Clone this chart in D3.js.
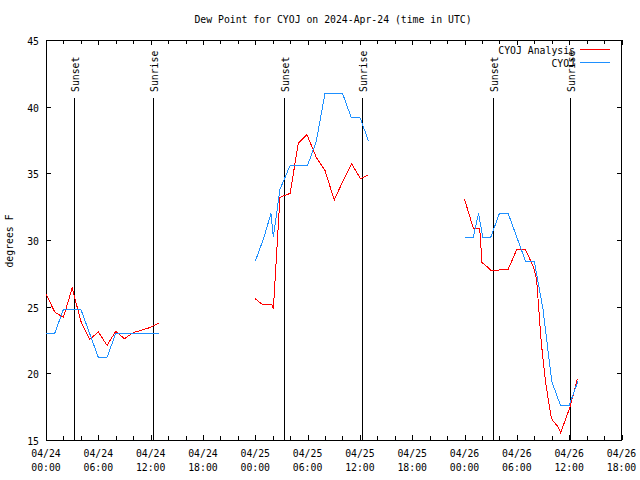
<!DOCTYPE html>
<html><head><meta charset="utf-8">
<script src="https://cdn.jsdelivr.net/npm/d3@7"></script>
<style>
body{margin:0;background:#fff}
text{font-family:"DejaVu Sans Mono",monospace;font-size:9.8px;fill:#000}
</style>
</head><body><svg id="c" width="640" height="480"></svg>
<script>
// hours since 2024-04-24 00:00 UTC; null breaks the line
const analysisHours = [0,1,2,3,4,5,6,7,8,9,10,11,12,13, null,
  24,24.74,25.88,26.07,26.83,28,28.93,29.93,31,32,33.06,34,35.06,36.07,36.96, null,
  48,49,49.74,50,50.4,51,52,53,54,55,55.9,56.27,56.8,57.28,57.88,58.06,58.72,59.02,60.06,60.95];
const analysisValues = [25.95,24.6,24.2,26.4,23.9,22.55,23.1,22.1,23.15,22.6,23.05,23.25,23.45,23.8, null,
  25.6,25.2,25.2,24.8,33.2,33.5,37.25,37.9,36.2,35.2,33.0,34.35,35.7,34.6,34.9, null,
  33.05,30.9,30.9,28.3,28.1,27.75,27.75,27.8,29.3,29.25,28.0,27.0,22.3,19.4,16.9,16.5,16.0,15.55,17.4,19.6];
const obsHours = [0,1,2,3,4,5,6,7,8,9,10,11,12,13, null,
  24,25,25.8,26.07,26.83,28,29,30,31,32,33,34,35,36,37, null,
  48,49,49.6,50.1,51,52,53,54,55,56,57,58,59,60,61];
const obsValues = [23,23,24.8,24.8,24.8,23,21.2,21.2,23,23,23,23,23,23, null,
  28.4,30.2,32,30.2,33.8,35.6,35.6,35.6,37.4,41,41,41,39.2,39.2,37.4, null,
  30.2,30.2,32,30.2,30.2,32,32,30.2,28.4,28.4,24.8,19.4,17.6,17.6,19.4];
const sunHours = [3.21,12.3,27.33,36.27,51.3,60.12];
const sunLabels = ["Sunset","Sunrise","Sunset","Sunrise","Sunset","Sunrise"];
const xTickHours = [0,6,12,18,24,30,36,42,48,54,60,66];
const xTickDates = ["04/24","04/24","04/24","04/24","04/25","04/25","04/25","04/25","04/26","04/26","04/26","04/26"];
const xTickTimes = ["00:00","06:00","12:00","18:00","00:00","06:00","12:00","18:00","00:00","06:00","12:00","18:00"];
const yTicks = [15,20,25,30,35,40,45];
const seriesNames = ["CYOJ Analysis","CYOJ"];
const seriesColors = ["#ff0000","#1e90ff"];

const base = Date.UTC(2024,3,24);
const toDate = h => new Date(base + h*3600e3);
const L=46, R=621.5, T=40, B=440;
const x = d3.scaleUtc().domain([toDate(0), toDate(66)]).range([L, R]);
const y = d3.scaleLinear().domain([15,45]).range([B, T]);
const svg = d3.select("#c");
svg.append("rect").attr("width",640).attr("height",480).attr("fill","#fff");

// title
svg.append("text").attr("x",333).attr("y",23).attr("text-anchor","middle")
  .text("Dew Point for CYOJ on 2024-Apr-24 (time in UTC)");
svg.append("text").attr("transform","translate(13,241) rotate(-90)").attr("text-anchor","middle").text("degrees F");

const g = svg.append("g").attr("shape-rendering","crispEdges");
// x ticks every 2h, inward top & bottom
const minor = d3.range(0,67,2);
minor.forEach(h=>{
  const len = h%6===0 ? 5 : 4;
  const xx = Math.round(x(toDate(h)))+0.5;
  g.append("line").attr("x1",xx).attr("x2",xx).attr("y1",B).attr("y2",B-len).attr("stroke","#000");
  g.append("line").attr("x1",xx).attr("x2",xx).attr("y1",T).attr("y2",T+len).attr("stroke","#000");
});
yTicks.forEach(v=>{
  const yy = Math.round(y(v))+0.5;
  g.append("line").attr("x1",L).attr("x2",L+5).attr("y1",yy).attr("y2",yy).attr("stroke","#000");
  g.append("line").attr("x1",R).attr("x2",R-5).attr("y1",yy).attr("y2",yy).attr("stroke","#000");
  svg.append("text").attr("x",39).attr("y",yy+4).attr("text-anchor","end").text(v);
});
xTickHours.forEach((h,i)=>{
  const xx = x(toDate(h));
  svg.append("text").attr("x",xx).attr("y",457).attr("text-anchor","middle").text(xTickDates[i]);
  svg.append("text").attr("x",xx).attr("y",471).attr("text-anchor","middle").text(xTickTimes[i]);
});
// frame
g.append("rect").attr("x",L+0.5).attr("y",T+0.5).attr("width",R-L-1).attr("height",B-T).attr("fill","none").attr("stroke","#000");

// sun lines
sunHours.forEach((h,i)=>{
  const xx = Math.round(x(toDate(h)))+0.5;
  g.append("line").attr("x1",xx).attr("x2",xx).attr("y1",98).attr("y2",B).attr("stroke","#000");
  svg.append("text").attr("transform",`translate(${xx+4},92) rotate(-90)`).text(sunLabels[i]);
});

function mk(hours, vals){ return hours.map((h,i)=>({h, v: vals[i]})); }
const line = d3.line().defined(d=>d.h!=null && d.v!=null).x(d=>x(toDate(d.h))).y(d=>y(d.v));
[mk(analysisHours,analysisValues), mk(obsHours,obsValues)].forEach((data,i)=>{
  svg.append("path").datum(data).attr("d",line).attr("fill","none")
    .attr("stroke",seriesColors[i]).attr("stroke-width",1).attr("shape-rendering","crispEdges");
});

// legend
seriesNames.forEach((n,i)=>{
  const yy = 49.5 + i*13;
  svg.append("text").attr("x",575).attr("y",yy+4).attr("text-anchor","end").text(n);
  svg.append("line").attr("x1",580).attr("x2",610).attr("y1",yy).attr("y2",yy)
    .attr("stroke",seriesColors[i]).attr("shape-rendering","crispEdges");
});
</script></body></html>
